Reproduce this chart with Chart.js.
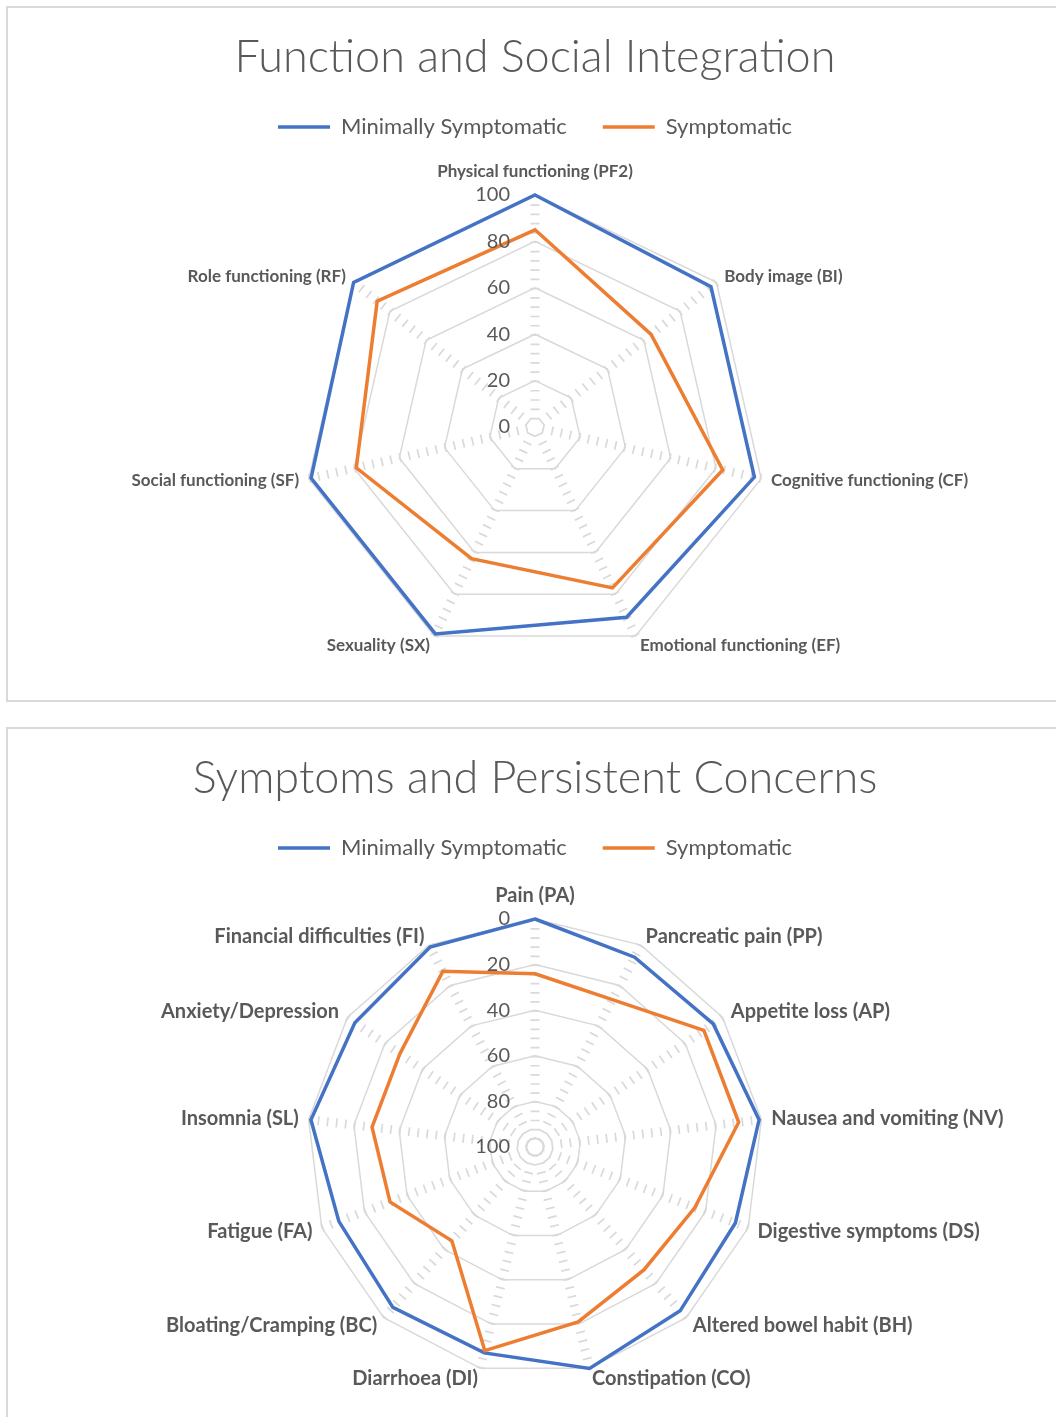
<!DOCTYPE html>
<html>
<head>
<meta charset="utf-8">
<script src="https://cdn.jsdelivr.net/npm/chart.js@4.4.0/dist/chart.umd.min.js"></script>
<style>
html,body{margin:0;padding:0;background:#fff;overflow:hidden}
.box{position:absolute;left:6px;width:1054px;border:2px solid #d9d9d9;background:#fff}
#b1{top:6px;height:692px}
#b2{top:727px;height:700px}
canvas{display:block}
</style>
</head>
<body>
<div class="box" id="b1"><canvas id="c1" width="1054" height="692"></canvas></div>
<div class="box" id="b2"><canvas id="c2" width="1054" height="700"></canvas></div>
<script>
// chart 1: function scales
const funcLabels=["Physical functioning (PF2)","Body image (BI)","Cognitive functioning (CF)","Emotional functioning (EF)","Sexuality (SX)","Social functioning (SF)","Role functioning (RF)"]
const funcMinimal=[100,97,97,91,99,99,100]
const funcSymptomatic=[85,64,83,77,63,79,87]

// chart 2: symptom scales (axis reversed, 0 on the outside)
const sympLabels=["Pain (PA)","Pancreatic pain (PP)","Appetite loss (AP)","Nausea and vomiting (NV)","Digestive symptoms (DS)","Altered bowel habit (BH)","Constipation (CO)","Diarrhoea (DI)","Bloating/Cramping (BC)","Fatigue (FA)","Insomnia (SL)","Anxiety/Depression","Financial difficulties (FI)"]
const sympMinimal=[0,6,5,1,6,4,0,7,6,8,1,4,1]
const sympSymptomatic=[24,27,10,10,25,28,21,8,45,32,28,28,13]

const seriesNames=["Minimally Symptomatic","Symptomatic"]
const tickStep=20

const BLUE="#4472c4",ORANGE="#ed7d31",GREY="#595959",GRID="#d9d9d9"

// value labels left of the top spoke, category labels placed like excel does
const axisText={
  id:"axisText",
  afterDatasetsDraw(chart,args,opts){
    const s=chart.scales.r,c=chart.ctx
    c.save()
    c.fillStyle=GREY
    c.font="20px Lato"
    c.textAlign="right"
    c.textBaseline="middle"
    s.ticks.forEach(t=>{
      c.fillText(String(Math.round(t.value)),s.xCenter-25,s.yCenter-s.getDistanceFromCenterForValue(t.value))
    })
    c.font="bold "+opts.size+"px Lato"
    chart.data.labels.forEach((lab,i)=>{
      const a=s.getIndexAngle(i)
      const p=s.getPointPosition(i,s.drawingArea+10)
      const sn=Math.sin(a),cs=Math.cos(a)
      let y=p.y
      if(Math.abs(sn)<0.01){
        c.textAlign="center"
        y+=cs>0?-13.5:13.5
      }else c.textAlign=sn>0?"left":"right"
      c.fillText(lab,p.x,y)
    })
    c.restore()
  }
}

function radar(id,title,labels,a,b,o){
  return new Chart(document.getElementById(id),{
    type:"radar",
    data:{
      labels:labels,
      datasets:[
        {label:seriesNames[0],data:a,borderColor:BLUE,backgroundColor:BLUE,borderWidth:3.5,pointRadius:0,fill:false,order:1},
        {label:seriesNames[1],data:b,borderColor:ORANGE,backgroundColor:ORANGE,borderWidth:3.5,pointRadius:0,fill:false,order:0}
      ]
    },
    options:{
      responsive:false,
      animation:false,
      layout:{padding:{bottom:o.bottom}},
      plugins:{
        title:{display:true,text:title,color:GREY,font:{family:"Lato",size:45,weight:"300",lineHeight:1},padding:{top:27,bottom:0}},
        legend:{labels:{usePointStyle:true,pointStyle:"line",pointStyleWidth:52,color:GREY,font:{family:"Lato",size:22},padding:36,
          sort:(x,y)=>x.datasetIndex-y.datasetIndex}},
        // empty spacer between legend and plot
        subtitle:{display:true,text:"",weight:500,font:{size:o.gap,lineHeight:1},padding:0},
        axisText:{size:o.labelSize},
        tooltip:{enabled:false}
      },
      scales:{
        r:{
          min:o.min,max:100,reverse:o.reverse,
          ticks:{display:false,stepSize:tickStep},
          grid:{color:GRID,lineWidth:1.5},
          angleLines:{color:GRID,lineWidth:9,
            borderDash:c=>{const p=c.chart.scales.r.drawingArea*4/100;return [1.7,p-1.7]},
            borderDashOffset:1.7},
          pointLabels:{display:false}
        }
      }
    },
    plugins:[axisText]
  })
}

radar("c1","Function and Social Integration",funcLabels,funcMinimal,funcSymptomatic,
  {min:0,reverse:false,gap:47,bottom:41,labelSize:17})
radar("c2","Symptoms and Persistent Concerns",sympLabels,sympMinimal,sympSymptomatic,
  {min:-0.0001,reverse:true,gap:50,bottom:54,labelSize:20})
</script>
</body>
</html>
